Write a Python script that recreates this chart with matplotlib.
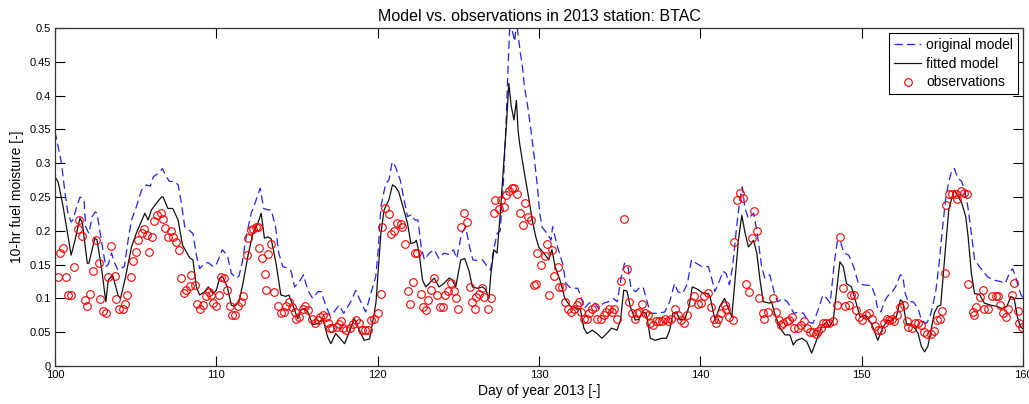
import numpy as np
import matplotlib
matplotlib.use("Agg")
import matplotlib.pyplot as plt

plt.rcParams['font.family'] = ['Liberation Sans', 'DejaVu Sans']

# original model (blue dashed)
orig_day = [100.0, 100.2, 100.4, 100.6, 100.8, 101.0, 101.1, 101.38, 101.55, 101.8,
            101.9, 102.1, 102.3, 102.5, 102.6, 102.8, 103.0, 103.15, 103.3, 103.5,
            103.7, 103.9, 104.1, 104.3, 104.53, 104.74, 105.05, 105.36, 105.67, 105.9,
            106.1, 106.4, 106.66, 106.9, 107.1, 107.4, 107.63, 107.83, 108.04, 108.35,
            108.55, 108.76, 108.97, 109.28, 109.5, 109.8, 110.0, 110.37, 110.68, 110.93,
            111.24, 111.4, 111.6, 111.85, 112.16, 112.43, 112.72, 112.93, 113.2, 113.4,
            113.67, 113.87, 114.12, 114.4, 114.64, 114.85, 115.15, 115.4, 115.67, 115.97,
            116.3, 116.5, 116.8, 117.05, 117.3, 117.6, 117.9, 118.33, 118.64, 118.95,
            119.26, 119.57, 119.88, 120.05, 120.2, 120.5, 120.7, 120.9, 121.1, 121.4,
            121.6, 121.85, 122.1, 122.3, 122.5, 122.7, 122.9, 123.2, 123.5, 123.8,
            124.1, 124.4, 124.7, 124.9, 125.2, 125.45, 125.7, 125.9, 126.2, 126.5,
            126.8, 127.0, 127.15, 127.4, 127.6, 127.8, 127.95, 128.1, 128.2, 128.4,
            128.5, 128.6, 128.85, 128.97, 129.1, 129.3, 129.5, 129.7, 129.9, 130.05,
            130.2, 130.5, 130.75, 130.84, 131.15, 131.46, 131.67, 131.98, 132.4, 132.6,
            132.8, 133.1, 133.4, 133.7, 134.0, 134.3, 134.6, 134.85, 135.1, 135.3,
            135.5, 135.7, 136.0, 136.2, 136.45, 136.7, 136.9, 137.4, 137.8, 138.1,
            138.4, 138.6, 138.9, 139.2, 139.45, 139.75, 140.1, 140.5, 140.7, 140.9,
            141.2, 141.4, 141.6, 141.8, 142.0, 142.25, 142.45, 142.6, 142.77, 142.98,
            143.3, 143.5, 143.8, 144.0, 144.3, 144.6, 144.8, 145.1, 145.4, 145.8,
            146.1, 146.4, 146.7, 146.98, 147.3, 147.6, 147.8, 148.05, 148.3, 148.5,
            148.7, 148.9, 149.2, 149.5, 149.8, 150.1, 150.6, 150.85, 151.0, 151.2,
            151.4, 151.6, 151.9, 152.1, 152.4, 152.55, 152.7, 152.9, 153.2, 153.5,
            153.7, 154.0, 154.2, 154.4, 154.6, 154.8, 155.0, 155.2, 155.4, 155.6,
            155.75, 155.95, 156.2, 156.4, 156.6, 156.8, 157.0, 157.3, 157.8, 158.2,
            158.6, 158.9, 159.15, 159.35, 159.5, 159.85, 160.0]
orig_val = [0.347, 0.324, 0.300, 0.260, 0.226, 0.213, 0.216, 0.238, 0.250, 0.246,
            0.206, 0.196, 0.221, 0.228, 0.226, 0.196, 0.167, 0.147, 0.150, 0.167,
            0.152, 0.142, 0.145, 0.147, 0.186, 0.216, 0.236, 0.260, 0.268, 0.266,
            0.280, 0.285, 0.292, 0.280, 0.273, 0.273, 0.268, 0.241, 0.206, 0.200,
            0.196, 0.164, 0.144, 0.152, 0.153, 0.147, 0.150, 0.172, 0.164, 0.137,
            0.130, 0.133, 0.152, 0.191, 0.226, 0.243, 0.263, 0.233, 0.231, 0.231,
            0.206, 0.167, 0.147, 0.145, 0.140, 0.117, 0.125, 0.135, 0.112, 0.100,
            0.110, 0.110, 0.088, 0.075, 0.080, 0.090, 0.078, 0.095, 0.112, 0.095,
            0.080, 0.107, 0.132, 0.176, 0.236, 0.270, 0.275, 0.302, 0.295, 0.275,
            0.250, 0.221, 0.224, 0.216, 0.216, 0.176, 0.157, 0.167, 0.172, 0.159,
            0.167, 0.165, 0.172, 0.159, 0.196, 0.206, 0.176, 0.157, 0.156, 0.157,
            0.147, 0.142, 0.167, 0.196, 0.200, 0.275, 0.354, 0.453, 0.510, 0.490,
            0.480, 0.510, 0.462, 0.443, 0.413, 0.384, 0.349, 0.310, 0.265, 0.225,
            0.205, 0.196, 0.186, 0.206, 0.176, 0.152, 0.122, 0.115, 0.115, 0.103,
            0.085, 0.093, 0.095, 0.085, 0.093, 0.095, 0.100, 0.095, 0.132, 0.152,
            0.149, 0.115, 0.110, 0.115, 0.117, 0.095, 0.078, 0.078, 0.080, 0.095,
            0.122, 0.110, 0.107, 0.122, 0.157, 0.152, 0.147, 0.147, 0.130, 0.110,
            0.127, 0.140, 0.137, 0.120, 0.147, 0.206, 0.246, 0.265, 0.233, 0.218,
            0.226, 0.201, 0.147, 0.130, 0.135, 0.107, 0.095, 0.100, 0.095, 0.078,
            0.080, 0.078, 0.065, 0.063, 0.083, 0.105, 0.101, 0.093, 0.152, 0.186,
            0.183, 0.167, 0.164, 0.147, 0.122, 0.120, 0.119, 0.103, 0.083, 0.080,
            0.095, 0.103, 0.110, 0.117, 0.135, 0.133, 0.107, 0.095, 0.095, 0.085,
            0.068, 0.063, 0.070, 0.088, 0.112, 0.152, 0.201, 0.246, 0.273, 0.290,
            0.292, 0.278, 0.273, 0.258, 0.233, 0.196, 0.157, 0.147, 0.132, 0.127,
            0.125, 0.122, 0.137, 0.144, 0.135, 0.107, 0.100]

# fitted model (black)
fit_day = [100.0, 100.2, 100.5, 101.0, 101.24, 101.55, 101.7, 102.0, 102.1, 102.47,
           102.6, 102.9, 103.15, 103.3, 103.57, 103.9, 104.06, 104.33, 104.74, 105.05,
           105.57, 105.77, 105.98, 106.29, 106.6, 106.7, 107.0, 107.3, 107.63, 107.9,
           108.35, 108.55, 108.76, 108.97, 109.28, 109.5, 109.8, 110.0, 110.2, 110.4,
           110.68, 110.93, 111.13, 111.4, 111.65, 111.95, 112.26, 112.57, 112.78, 112.98,
           113.2, 113.4, 113.7, 114.0, 114.3, 114.5, 114.85, 115.05, 115.25, 115.45,
           115.65, 115.97, 116.3, 116.6, 116.9, 117.1, 117.4, 117.7, 117.95, 118.2,
           118.55, 118.86, 119.17, 119.5, 119.75, 119.9, 120.0, 120.2, 120.4, 120.7,
           120.92, 121.1, 121.3, 121.6, 121.85, 122.06, 122.3, 122.4, 122.57, 122.78,
           122.98, 123.19, 123.5, 123.8, 124.1, 124.43, 124.6, 124.84, 125.15, 125.4,
           125.67, 125.87, 126.18, 126.5, 126.7, 126.9, 127.0, 127.2, 127.4, 127.6,
           127.83, 128.0, 128.13, 128.28, 128.45, 128.6, 128.7, 128.8, 128.96, 129.17,
           129.38, 129.58, 129.8, 130.0, 130.3, 130.6, 130.8, 131.0, 131.3, 131.6,
           131.95, 132.2, 132.57, 132.78, 132.98, 133.3, 133.6, 133.9, 134.2, 134.5,
           134.84, 135.05, 135.25, 135.45, 135.66, 135.97, 136.2, 136.4, 136.65, 136.9,
           137.2, 137.6, 137.9, 138.1, 138.3, 138.5, 138.75, 139.05, 139.3, 139.5,
           139.8, 140.2, 140.5, 140.6, 140.8, 140.92, 141.2, 141.5, 141.74, 141.95,
           142.15, 142.36, 142.57, 142.78, 142.98, 143.3, 143.5, 143.7, 143.9, 144.3,
           144.42, 144.6, 144.94, 145.25, 145.55, 145.76, 145.97, 146.3, 146.6, 146.9,
           147.2, 147.5, 147.83, 148.0, 148.24, 148.45, 148.65, 148.86, 149.06, 149.37,
           149.6, 149.9, 150.2, 150.6, 151.0, 151.3, 151.6, 151.8, 152.15, 152.4,
           152.55, 152.77, 152.98, 153.3, 153.5, 153.7, 153.9, 154.1, 154.3, 154.5,
           154.7, 154.9, 155.2, 155.4, 155.6, 155.76, 156.0, 156.2, 156.45, 156.6,
           156.8, 157.0, 157.3, 157.6, 158.0, 158.4, 158.7, 159.0, 159.25, 159.45,
           159.65, 159.85, 160.0]
fit_val = [0.280, 0.272, 0.236, 0.164, 0.186, 0.219, 0.211, 0.152, 0.152, 0.189,
           0.187, 0.142, 0.095, 0.127, 0.135, 0.105, 0.100, 0.127, 0.176, 0.197,
           0.226, 0.216, 0.231, 0.241, 0.250, 0.250, 0.233, 0.233, 0.216, 0.179,
           0.160, 0.157, 0.117, 0.105, 0.110, 0.117, 0.107, 0.112, 0.130, 0.132,
           0.117, 0.090, 0.088, 0.095, 0.122, 0.162, 0.196, 0.211, 0.226, 0.189,
           0.191, 0.188, 0.152, 0.105, 0.103, 0.105, 0.083, 0.070, 0.083, 0.085,
           0.081, 0.061, 0.063, 0.070, 0.043, 0.033, 0.048, 0.040, 0.033, 0.048,
           0.070, 0.053, 0.038, 0.040, 0.073, 0.095, 0.130, 0.196, 0.231, 0.246,
           0.268, 0.265, 0.258, 0.233, 0.211, 0.181, 0.183, 0.186, 0.167, 0.127,
           0.117, 0.122, 0.130, 0.117, 0.122, 0.130, 0.128, 0.117, 0.157, 0.159,
           0.140, 0.117, 0.115, 0.117, 0.113, 0.100, 0.132, 0.172, 0.167, 0.226,
           0.305, 0.364, 0.418, 0.384, 0.364, 0.393, 0.349, 0.329, 0.305, 0.275,
           0.246, 0.216, 0.191, 0.175, 0.167, 0.157, 0.172, 0.147, 0.127, 0.100,
           0.088, 0.087, 0.083, 0.056, 0.048, 0.053, 0.048, 0.041, 0.048, 0.056,
           0.053, 0.068, 0.112, 0.111, 0.088, 0.068, 0.069, 0.080, 0.078, 0.041,
           0.038, 0.041, 0.041, 0.053, 0.078, 0.080, 0.068, 0.070, 0.088, 0.117,
           0.114, 0.107, 0.107, 0.103, 0.080, 0.068, 0.088, 0.100, 0.085, 0.073,
           0.127, 0.186, 0.223, 0.196, 0.176, 0.186, 0.167, 0.127, 0.095, 0.093,
           0.095, 0.078, 0.056, 0.046, 0.046, 0.031, 0.038, 0.041, 0.036, 0.019,
           0.038, 0.058, 0.065, 0.058, 0.068, 0.112, 0.154, 0.147, 0.122, 0.117,
           0.098, 0.073, 0.075, 0.063, 0.038, 0.056, 0.068, 0.066, 0.073, 0.098,
           0.095, 0.063, 0.061, 0.056, 0.048, 0.029, 0.021, 0.029, 0.053, 0.078,
           0.088, 0.090, 0.176, 0.231, 0.250, 0.260, 0.250, 0.241, 0.221, 0.191,
           0.137, 0.107, 0.106, 0.093, 0.090, 0.088, 0.085, 0.088, 0.103, 0.100,
           0.073, 0.058, 0.055]

# observations (red circles)
obs_day = [100.2, 100.3, 100.5, 100.7, 100.8, 101.0, 101.2, 101.4, 101.5, 101.7,
           101.85, 101.96, 102.17, 102.33, 102.54, 102.7, 102.8, 103.0, 103.14, 103.3,
           103.5, 103.7, 103.8, 103.98, 104.2, 104.33, 104.48, 104.69, 104.85, 105.0,
           105.16, 105.37, 105.53, 105.68, 105.84, 106.02, 106.15, 106.33, 106.55, 106.7,
           106.8, 106.98, 107.16, 107.3, 107.5, 107.68, 107.84, 107.99, 108.15, 108.36,
           108.46, 108.67, 108.8, 108.97, 109.18, 109.35, 109.55, 109.7, 109.8, 110.0,
           110.17, 110.3, 110.45, 110.66, 110.83, 111.0, 111.16, 111.35, 111.5, 111.66,
           111.87, 111.97, 112.12, 112.28, 112.45, 112.6, 112.65, 112.85, 113.0, 113.05,
           113.2, 113.4, 113.6, 113.8, 114.02, 114.2, 114.3, 114.5, 114.7, 114.85,
           114.95, 115.15, 115.35, 115.5, 115.7, 115.9, 116.1, 116.3, 116.45, 116.6,
           116.78, 116.9, 117.05, 117.2, 117.45, 117.6, 117.75, 117.85, 118.05, 118.27,
           118.5, 118.67, 118.84, 119.0, 119.2, 119.4, 119.6, 119.8, 120.02, 120.19,
           120.27, 120.48, 120.68, 120.8, 121.0, 121.22, 121.42, 121.5, 121.72, 121.88,
           121.98, 122.19, 122.34, 122.46, 122.66, 122.8, 123.0, 123.15, 123.3, 123.5,
           123.7, 123.84, 124.04, 124.15, 124.35, 124.52, 124.72, 124.87, 124.97, 125.14,
           125.35, 125.55, 125.7, 125.84, 126.05, 126.1, 126.3, 126.46, 126.58, 126.83,
           127.04, 127.2, 127.29, 127.5, 127.66, 127.86, 127.97, 128.17, 128.32, 128.48,
           128.65, 128.85, 129.0, 129.15, 129.3, 129.5, 129.7, 129.83, 129.9, 130.1,
           130.35, 130.5, 130.65, 130.8, 130.95, 131.16, 131.27, 131.4, 131.64, 131.78,
           132.0, 132.2, 132.35, 132.5, 132.6, 132.8, 133.0, 133.1, 133.3, 133.5,
           133.6, 133.85, 134.0, 134.15, 134.35, 134.5, 134.65, 134.85, 135.1, 135.25,
           135.45, 135.6, 135.75, 135.92, 136.05, 136.2, 136.4, 136.57, 136.78, 136.87,
           137.07, 137.24, 137.45, 137.6, 137.8, 138.0, 138.18, 138.4, 138.6, 138.8,
           139.0, 139.2, 139.42, 139.63, 139.83, 140.04, 140.25, 140.45, 140.66, 140.87,
           140.98, 141.1, 141.28, 141.5, 141.6, 141.8, 142.0, 142.1, 142.27, 142.45,
           142.62, 142.83, 143.0, 143.18, 143.35, 143.5, 143.65, 143.86, 143.97, 144.17,
           144.48, 144.7, 144.85, 145.0, 145.15, 145.35, 145.5, 145.68, 145.82, 146.03,
           146.23, 146.44, 146.64, 146.79, 147.0, 147.15, 147.3, 147.45, 147.6, 147.8,
           148.0, 148.2, 148.45, 148.65, 148.82, 148.98, 149.2, 149.33, 149.5, 149.64,
           149.85, 150.05, 150.26, 150.47, 150.67, 150.84, 151.0, 151.2, 151.4, 151.55,
           151.7, 151.87, 152.0, 152.2, 152.4, 152.6, 152.8, 152.9, 153.1, 153.3,
           153.5, 153.65, 153.87, 154.07, 154.27, 154.5, 154.7, 154.85, 155.0, 155.17,
           155.25, 155.42, 155.62, 155.83, 155.93, 156.14, 156.35, 156.5, 156.6, 156.87,
           156.97, 157.07, 157.32, 157.5, 157.58, 157.8, 158.1, 158.3, 158.47, 158.6,
           158.76, 158.93, 159.1, 159.3, 159.45, 159.66, 159.76, 159.93]
obs_val = [0.132, 0.167, 0.174, 0.131, 0.105, 0.105, 0.146, 0.202, 0.216, 0.192,
           0.098, 0.089, 0.107, 0.141, 0.187, 0.153, 0.099, 0.081, 0.078, 0.131,
           0.178, 0.133, 0.099, 0.084, 0.084, 0.092, 0.105, 0.131, 0.156, 0.169,
           0.187, 0.197, 0.202, 0.194, 0.169, 0.191, 0.215, 0.223, 0.227, 0.218,
           0.204, 0.191, 0.199, 0.191, 0.184, 0.171, 0.130, 0.108, 0.112, 0.118,
           0.135, 0.120, 0.092, 0.085, 0.090, 0.104, 0.110, 0.105, 0.093, 0.089,
           0.105, 0.132, 0.130, 0.113, 0.089, 0.075, 0.075, 0.089, 0.094, 0.104,
           0.164, 0.189, 0.201, 0.202, 0.205, 0.206, 0.175, 0.160, 0.136, 0.113,
           0.165, 0.181, 0.110, 0.089, 0.078, 0.080, 0.089, 0.094, 0.088, 0.080,
           0.070, 0.073, 0.084, 0.089, 0.083, 0.069, 0.064, 0.068, 0.073, 0.075,
           0.073, 0.063, 0.056, 0.056, 0.058, 0.062, 0.066, 0.056, 0.053, 0.056,
           0.062, 0.068, 0.063, 0.053, 0.053, 0.053, 0.068, 0.069, 0.078, 0.107,
           0.206, 0.233, 0.225, 0.195, 0.200, 0.212, 0.210, 0.205, 0.180, 0.111,
           0.092, 0.124, 0.167, 0.167, 0.107, 0.087, 0.083, 0.097, 0.113, 0.130,
           0.105, 0.087, 0.087, 0.105, 0.111, 0.123, 0.111, 0.100, 0.085, 0.205,
           0.226, 0.213, 0.117, 0.095, 0.084, 0.102, 0.107, 0.115, 0.102, 0.084,
           0.100, 0.227, 0.245, 0.232, 0.245, 0.235, 0.253, 0.259, 0.263, 0.264,
           0.254, 0.227, 0.209, 0.241, 0.221, 0.216, 0.120, 0.121, 0.167, 0.149,
           0.162, 0.180, 0.105, 0.172, 0.133, 0.147, 0.117, 0.117, 0.095, 0.085,
           0.080, 0.085, 0.090, 0.095, 0.080, 0.070, 0.069, 0.078, 0.085, 0.087,
           0.069, 0.069, 0.075, 0.080, 0.085, 0.080, 0.085, 0.069, 0.126, 0.218,
           0.143, 0.095, 0.078, 0.070, 0.078, 0.080, 0.092, 0.078, 0.075, 0.063,
           0.061, 0.066, 0.066, 0.066, 0.069, 0.066, 0.070, 0.085, 0.075, 0.068,
           0.063, 0.075, 0.095, 0.103, 0.092, 0.093, 0.103, 0.108, 0.088, 0.069,
           0.063, 0.069, 0.078, 0.090, 0.085, 0.073, 0.068, 0.184, 0.246, 0.256,
           0.248, 0.122, 0.110, 0.189, 0.230, 0.199, 0.100, 0.078, 0.069, 0.080,
           0.100, 0.080, 0.068, 0.061, 0.063, 0.066, 0.068, 0.072, 0.056, 0.056,
           0.061, 0.066, 0.056, 0.051, 0.051, 0.048, 0.052, 0.056, 0.063, 0.064,
           0.063, 0.066, 0.090, 0.191, 0.115, 0.089, 0.090, 0.105, 0.105, 0.083,
           0.073, 0.068, 0.075, 0.079, 0.070, 0.059, 0.053, 0.053, 0.063, 0.069,
           0.068, 0.069, 0.066, 0.075, 0.088, 0.090, 0.067, 0.057, 0.056, 0.063,
           0.064, 0.061, 0.051, 0.048, 0.048, 0.052, 0.068, 0.069, 0.082, 0.137,
           0.238, 0.254, 0.254, 0.254, 0.247, 0.259, 0.256, 0.254, 0.121, 0.080,
           0.075, 0.088, 0.102, 0.112, 0.085, 0.085, 0.104, 0.103, 0.104, 0.090,
           0.079, 0.073, 0.085, 0.105, 0.123, 0.082, 0.064, 0.058]

x_ticks = [100, 110, 120, 130, 140, 150, 160]
y_ticks = [0, 0.05, 0.1, 0.15, 0.2, 0.25, 0.3, 0.35, 0.4, 0.45, 0.5]
y_tick_labels = ['0', '0.05', '0.1', '0.15', '0.2', '0.25', '0.3', '0.35', '0.4', '0.45', '0.5']

fig = plt.figure(figsize=(10.29, 4.04), dpi=100)
ax = fig.add_axes([55 / 1029, 1 - 366 / 404, (1023 - 55) / 1029, (366 - 28) / 404])

ax.plot(orig_day, orig_val, color='#2020ff', lw=0.9, dashes=(6.5, 3.5), label='original model')
ax.plot(fit_day, fit_val, color='#111111', lw=0.9, label='fitted model')
ax.plot(obs_day, obs_val, ls='none', marker='o', ms=5.5, mfc='none', mec='#ff0000',
        mew=0.8, label='observations')

ax.set_xlim(100, 160)
ax.set_ylim(0, 0.5)
ax.set_xticks(x_ticks)
ax.set_yticks(y_ticks)
ax.set_yticklabels(y_tick_labels)
ax.tick_params(direction='in', length=7, width=0.8, top=True, right=True,
               labelsize=8, pad=3)
for s in ax.spines.values():
    s.set_linewidth(0.9)
    s.set_color('#333333')

ax.set_title('Model vs. observations in 2013 station: BTAC', fontsize=11.5, pad=5)
ax.set_xlabel('Day of year 2013 [-]', fontsize=10, labelpad=3)
ax.set_ylabel('10-hr fuel moisture [-]', fontsize=10, labelpad=4)

leg = ax.legend(loc='upper right', fontsize=10, frameon=True, fancybox=False,
                edgecolor='black', framealpha=1, borderaxespad=0.35,
                handlelength=1.9, labelspacing=0.35, handletextpad=0.4,
                borderpad=0.35)
leg.get_frame().set_linewidth(0.8)

fig.savefig('out.png', dpi=100)
